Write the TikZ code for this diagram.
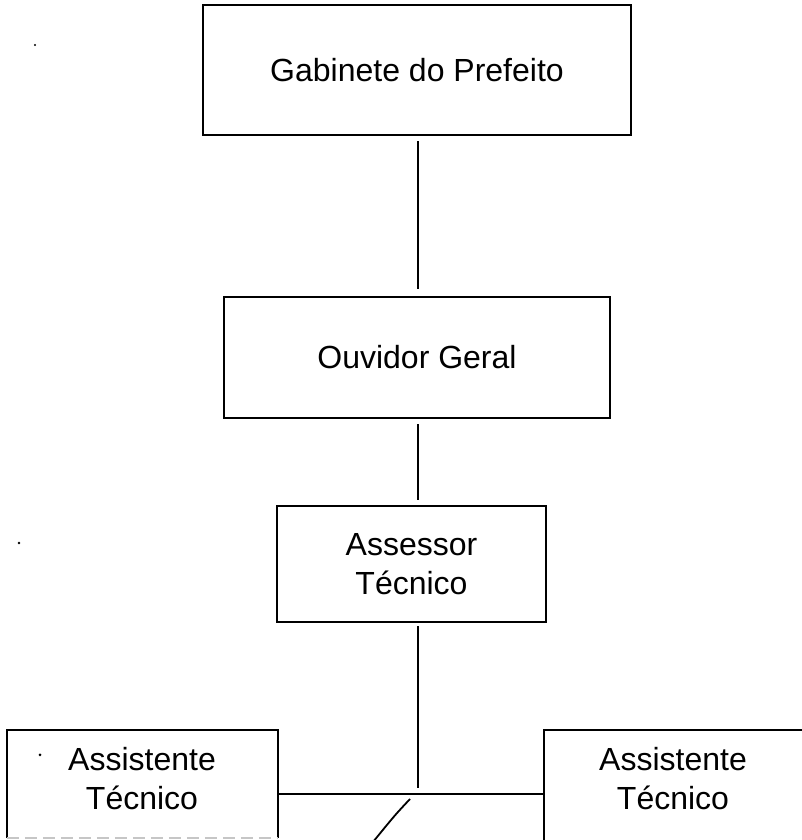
\documentclass[tikz,border=0pt]{standalone}
\usepackage{fontspec}
\setmainfont{Liberation Sans}
\begin{document}
\begin{tikzpicture}[x=1pt,y=1pt,
  box/.style={draw, line width=2.2pt, rectangle, inner sep=0pt, align=center,
    font=\fontsize{32}{39}\selectfont},
  conn/.style={line width=1.8pt},
  txt/.style={align=center, inner sep=0pt, font=\fontsize{32}{39}\selectfont}]
\useasboundingbox (0,0) rectangle (802,840);
\clip (0,0) rectangle (802,840);
% boxes
\node[box, minimum width=428, minimum height=130] (gab) at (417,770) {Gabinete do Prefeito};
\node[box, minimum width=386, minimum height=121] (ouv) at (417,482.5) {\raisebox{-4pt}{Ouvidor Geral}};
\node[box, minimum width=269, minimum height=116] (ass) at (411.5,276) {Assessor\\T\'ecnico};
% assistant boxes (cut by the page edge)
\node[minimum width=271, minimum height=108, inner sep=0pt] (la) at (142.5,56) {};
\draw[line width=2.2pt] (la.south west) -- (la.north west) -- (la.north east) -- (la.south east);
\draw[line width=1.6pt, gray!45, dash pattern=on 12pt off 6pt] (la.south west) -- (la.south east);
\node[txt] (lat) at (142,61) {Assistente\\T\'ecnico};
\node[minimum width=271, minimum height=140, inner sep=0pt] (ra) at (679.5,40) {};
\draw[line width=2.2pt] (ra.south west) -- (ra.north west) -- (ra.north east);
\node[txt] (rat) at (673,61) {Assistente\\T\'ecnico};
% connectors
\coordinate (j) at (418,46);
\draw[conn] ([yshift=-5]gab.south -| j) -- ([yshift=7]ouv.north -| j);
\draw[conn] ([yshift=-5]ouv.south -| j) -- ([yshift=5]ass.north -| j);
\draw[conn] ([yshift=-3]ass.south -| j) -- ([yshift=6]j);
\draw[conn] (la.east |- j) -- (ra.west |- j);
% slash
\coordinate (s1) at (410,41);
\coordinate (s2) at (373,-2);
\draw[conn] (s1) .. controls (395,25) .. (s2);
% scan specks
\fill (40,85) circle (1.5pt);
\fill (19,297) circle (1.4pt);
\fill (35,795) circle (1.1pt);
\end{tikzpicture}
\end{document}
